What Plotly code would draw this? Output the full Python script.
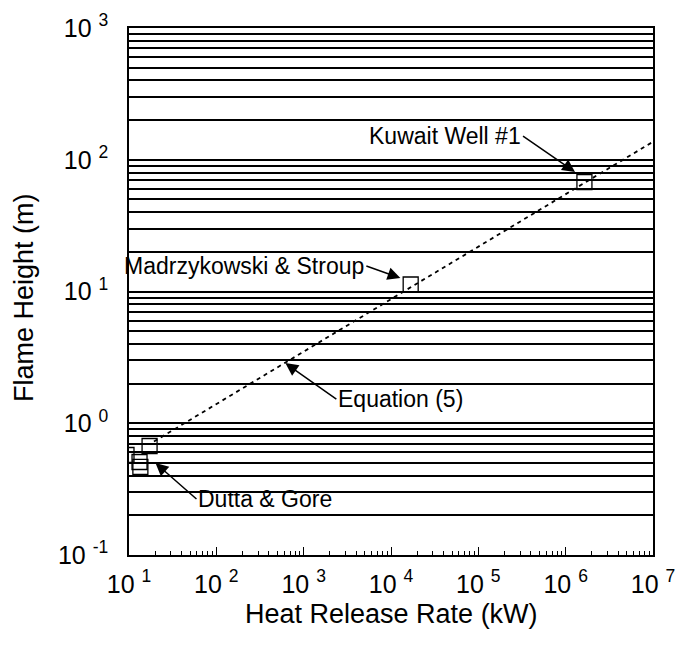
import math
import plotly.graph_objects as go

# ---------------- data ----------------
# Equation (5) correlation line: heat release rate (kW) vs flame height (m)
eq_hrr = [19.3, 1.0e7]
eq_height = [0.726, 137.0]

# Measured points
kuwait_hrr = [1.64e6]
kuwait_height = [67.8]
ms_hrr = [1.68e4]
ms_height = [11.3]
dg_hrr = [17.2, 13.2, 13.5, 9.36]
dg_height = [0.672, 0.508, 0.466, 0.574]

# Axis tick labels
x_tickvals = [1e1, 1e2, 1e3, 1e4, 1e5, 1e6, 1e7]
x_ticktext = ["10 <sup>1</sup>", "10 <sup>2</sup>", "10 <sup>3</sup>", "10 <sup>4</sup>",
              "10 <sup>5</sup>", "10 <sup>6</sup>", "10 <sup>7</sup>"]
y_tickvals = [0.1, 1, 10, 100, 1000]
y_ticktext = ["10 <sup>-1</sup>", "10 <sup>0</sup>", "10 <sup>1</sup>",
              "10 <sup>2</sup>", "10 <sup>3</sup>"]

# Annotations: label, arrow target (kW, m)
ann_text = ["Kuwait Well #1", "Madrzykowski & Stroup", "Equation (5)", "Dutta & Gore"]
ann_hrr = [1.28e6, 1.28e4, 617.0, 20.1]
ann_height = [80.7, 12.65, 2.86, 0.499]
ann_ax = [-52, -34, 51, 41]
ann_ay = [-36, -12, 36, 36]
ann_anchor = ["right", "right", "left", "left"]

FONT = "Liberation Sans, Arial, Helvetica, sans-serif"

W, H = 681, 652
ML, MR, MT, MB = 129, 28, 28, 97
PW, PH = W - ML - MR, H - MT - MB

minor_y = [m * 10 ** k for k in range(-1, 3) for m in range(2, 10)]
minor_x = [m * 10 ** k for k in range(1, 7) for m in range(2, 10)]

fig = go.Figure()
fig.add_trace(go.Scatter(x=eq_hrr, y=eq_height, mode="lines",
                         line=dict(color="black", width=1.8, dash="4px,4px"),
                         showlegend=False, hoverinfo="skip"))
for xs, ys in [(kuwait_hrr, kuwait_height), (ms_hrr, ms_height), (dg_hrr, dg_height)]:
    fig.add_trace(go.Scatter(x=xs, y=ys, mode="markers",
                             marker=dict(symbol="square-open", size=15, color="black",
                                         line=dict(width=1.3, color="black")),
                             showlegend=False))

annotations = []
for t, q, h, ax, ay, anc in zip(ann_text, ann_hrr, ann_height, ann_ax, ann_ay, ann_anchor):
    annotations.append(dict(x=math.log10(q), y=math.log10(h), xref="x", yref="y",
                            text=t, showarrow=True, ax=ax, ay=ay,
                            xanchor=anc, yanchor="middle",
                            arrowhead=2, arrowsize=1.7, arrowwidth=1.5,
                            arrowcolor="black", standoff=0,
                            font=dict(family=FONT, size=23, color="black")))
# axis titles placed in pixel terms (converted to paper fractions)
annotations.append(dict(x=0.5, y=(H - MB - 614) / PH, xref="paper", yref="paper",
                        text="Heat Release Rate (kW)", showarrow=False,
                        xanchor="center", yanchor="middle",
                        font=dict(family=FONT, size=27, color="black")))
annotations.append(dict(x=(24 - ML) / PW, y=(H - MB - 298) / PH, xref="paper", yref="paper",
                        text="Flame Height (m)", textangle=-90, showarrow=False,
                        xanchor="center", yanchor="middle",
                        font=dict(family=FONT, size=27, color="black")))

fig.update_layout(
    width=W, height=H,
    margin=dict(l=ML, r=MR, t=MT, b=MB, autoexpand=False),
    paper_bgcolor="white", plot_bgcolor="white",
    font=dict(family=FONT, color="black"),
    annotations=annotations,
    xaxis=dict(type="log", range=[1, 7], showgrid=False, zeroline=False, automargin=False,
               tickmode="array", tickvals=x_tickvals, ticktext=x_ticktext,
               ticks="inside", ticklen=8, tickwidth=1.3, tickcolor="black",
               tickfont=dict(family=FONT, size=25, color="black"),
               ticklabelstandoff=6, ticklabeloverflow="allow",
               showline=True, linecolor="black", linewidth=1.5, mirror=True,
               minor=dict(tickmode="array", tickvals=minor_x, ticks="inside",
                          ticklen=4, tickwidth=1.2, tickcolor="black", showgrid=False)),
    yaxis=dict(type="log", range=[-1, 3], zeroline=False, automargin=False,
               tickmode="array", tickvals=y_tickvals, ticktext=y_ticktext,
               ticks="", showgrid=True, gridcolor="black", gridwidth=1.8,
               tickfont=dict(family=FONT, size=25, color="black"),
               ticklabelstandoff=14, ticklabeloverflow="allow",
               showline=True, linecolor="black", linewidth=1.5, mirror=True,
               minor=dict(tickmode="array", tickvals=minor_y, ticks="",
                          showgrid=True, gridcolor="black", gridwidth=1.8)),
)

# remove the default page margin so the figure sits at the window's top-left corner
fig.write_html("out.html", config={"displayModeBar": False},
               post_script="document.body.style.margin='0px';")
